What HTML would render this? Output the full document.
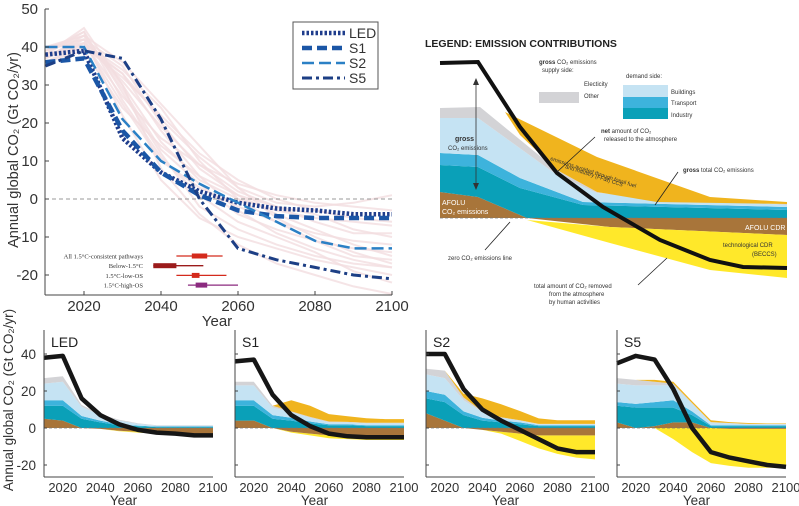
<!DOCTYPE html>
<html><head><meta charset="utf-8"><style>
html,body{margin:0;padding:0;background:#fff;}
svg{display:block;font-family:"Liberation Sans",sans-serif;}
</style></head><body>
<svg id="fig" width="799" height="506" viewBox="0 0 799 506" xmlns="http://www.w3.org/2000/svg">
<g>
<text x="425" y="47" font-size="10.5" font-weight="bold" fill="#222">LEGEND: EMISSION CONTRIBUTIONS</text>
<polygon points="440,192 478,197 527,218 440,218" fill="#a8753a"/>
<polygon points="440,218 527,218 610,227 787,235 787,218" fill="#a8753a"/>
<polygon points="527,220 610,227 787,235 787,278 710,270 610,243" fill="#ffe82a"/>
<polygon points="440,165 478,167 520,188 583,205 787,210 787,218 527,218 478,197 440,192" fill="#0aa0b8"/>
<polygon points="440,153 478,155 520,178 583,202 787,207 787,210 583,205 520,188 478,167 440,165" fill="#3db3dc"/>
<polygon points="440,118 478,118 557,175 597,193 787,205 787,207 583,202 520,178 478,155 440,153" fill="#c5e3f3"/>
<polygon points="440,108 480,107 557,170 597,192 657,202 787,204 787,205 597,193 557,175 478,118 440,118" fill="#d3d3d6"/>
<polygon points="505,112 597,157 710,197 787,202 787,204 657,202 597,192 557,170 520,135" fill="#f0b41e"/>
<line x1="440" y1="218" x2="787" y2="218" stroke="#777" stroke-dasharray="3,2" stroke-width="0.8"/>
<polyline points="440,63 478,62 520,127 557,173 603,207 660,240 710,260 743,267 787,268" fill="none" stroke="#111" stroke-width="4"/>
<line x1="476" y1="80" x2="476" y2="188" stroke="#333" stroke-width="0.8"/>
<polygon points="476,78 473,85 479,85" fill="#333"/><polygon points="476,190 473,183 479,183" fill="#333"/>
<g font-size="6" fill="#333">
<text x="539" y="64" font-weight="bold">gross <tspan font-weight="normal">CO₂ emissions</tspan></text>
<text x="542" y="72">supply side:</text>
<text x="584" y="86">Electicity</text>
<text x="584" y="98">Other</text>
<rect x="539" y="92" width="40" height="11" fill="#d3d3d6"/>
<text x="626" y="78">demand side:</text>
<rect x="623" y="85" width="45" height="12" fill="#c5e3f3"/>
<rect x="623" y="97" width="45" height="11" fill="#3db3dc"/>
<rect x="623" y="108" width="45" height="11" fill="#0aa0b8"/>
<text x="671" y="94">Buildings</text>
<text x="671" y="105">Transport</text>
<text x="671" y="117">Industry</text>
<text x="455" y="141" font-size="7" font-weight="bold">gross</text>
<text x="448" y="150">CO₂ emissions</text>
<text x="601" y="133" font-weight="bold">net <tspan font-weight="normal">amount of CO₂</tspan></text>
<text x="604" y="141">released to the atmosphere</text>
<text x="683" y="172" font-weight="bold">gross <tspan font-weight="normal">total CO₂ emissions</tspan></text>
<text x="550" y="160" transform="rotate(18 550 160)" font-size="5.5">emissions avoided through fossil fuel</text>
<text x="565" y="168" transform="rotate(18 565 168)" font-size="5.5">and industry (FF&amp;I) CCS</text>
<text x="442" y="205" fill="#fff" font-size="7">AFOLU</text>
<text x="442" y="214" fill="#fff" font-size="7">CO₂ emissions</text>
<text x="745" y="230" fill="#fff" font-size="7">AFOLU CDR</text>
<text x="723" y="247">technological CDR</text>
<text x="752" y="256">(BECCS)</text>
<text x="448" y="260">zero CO₂ emissions line</text>
<text x="534" y="288">total amount of CO₂ removed</text>
<text x="549" y="296">from the atmosphere</text>
<text x="549" y="304">by human activities</text>
</g>
<g stroke="#222" stroke-width="0.8" fill="none">
<line x1="485" y1="250" x2="510" y2="222"/><line x1="557" y1="172" x2="595" y2="137"/>
<line x1="655" y1="205" x2="678" y2="172"/><line x1="638" y1="285" x2="667" y2="258"/>
</g>
</g>
<g id="main"></g>
<g id="panels"></g>
</svg>
<script>
const years=[2010,2020,2030,2040,2050,2060,2070,2080,2090,2100];
const yTicks=[50,40,30,20,10,0,-10,-20];
const xTicks=[2020,2040,2060,2080,2100];
const ledNet=[38,39,16,7,2,-1,-2.5,-3,-4,-4];
const s1Net=[36,37,18,7,1,-3,-4.5,-5,-5,-5];
const s2Net=[40,40,21,10,4,-1,-6,-11,-13,-13];
const s5Net=[35,39,37,21,0,-13,-16,-18,-20,-21];
const bg1=[40,43,30,15,5,0,-3,-5,-6,-7];
const bg2=[38,41,25,10,3,-2,-6,-9,-11,-12];
const bg3=[37,42,35,20,8,1,-4,-8,-12,-15];
const bg4=[39,44,28,12,-2,-8,-12,-15,-17,-18];
const bg5=[36,40,32,22,12,5,0,-3,-5,-6];
const bg6=[40,42,22,5,-5,-10,-13,-16,-18,-20];
const bg7=[38,40,33,18,6,-3,-9,-13,-16,-18];
const bg8=[37,41,27,16,9,4,1,-1,-2,-3];
const bg9=[39,43,36,25,14,3,-5,-10,-14,-17];
const bg10=[38,45,30,8,-4,-12,-17,-20,-23,-25];
const bg11=[36,39,24,14,6,1,-2,-4,-8,-10];
const bg12=[40,41,34,24,10,0,-6,-11,-15,-16];
const bg13=[37,43,29,13,4,-4,-8,-11,-13,-14];
const bg14=[39,42,31,19,9,2,-2,-6,-9,-9];
const bg15=[38,44,26,11,1,-6,-10,-14,-19,-22];
const bg16=[36,41,33,21,11,3,-1,-2,-1,1];
const rangeLabels=["All 1.5°C-consistent pathways","Below-1.5°C","1.5°C-low-OS","1.5°C-high-OS"];
const rangeMin=[2044,2038,2044,2047];
const rangeQ1=[2048,2038,2048,2049];
const rangeQ3=[2052,2044,2050,2052];
const rangeMax=[2056,2051,2057,2060];
const rangeColors=["#d42a1c","#9b1b1b","#d42a1c","#8b2a7f"];
const scenNames=["LED","S1","S2","S5"];
const afolu={LED:[5,4,0,-0.5,-1.5,-2,-2.5,-3,-3,-3.5],S1:[4,4,0,-2,-3,-4,-4,-4,-4,-4],S2:[8,4,0,-1,-2,-3,-4,-4,-4,-4],S5:[3,0,1,3,3,0,-0.5,-0.5,-0.5,-0.5]};
const industry={LED:[7,8,5,3,1.5,1,0.5,0.5,0.5,0.5],S1:[8,8,5,4,2.5,1.5,1.5,1,1,1],S2:[8,10,7,4,3,2,1,1,1,1],S5:[9,11,10,8,4,1,1,1,1,1]};
const transport={LED:[3,3,1.5,1,0.5,0.3,0.3,0.3,0.3,0.3],S1:[3,3,2,1.5,1,0.5,0.5,0.5,0.5,0.5],S2:[4,4,2,1.5,1,1,0.5,0.5,0.5,0.5],S5:[2,2,3,4,2,0.5,0.5,0.5,0.5,0.5]};
const buildings={LED:[9,10,5,3,2,1,0.5,0.5,0.5,0.5],S1:[8,8,4,3,2,1,1,1,1,1],S2:[9,9,6,3,1.5,1,0.5,0.5,0.5,0.5],S5:[10,10,9,8,4,1.5,1,0.5,0.5,0.5]};
const other={LED:[3,3,1,0.5,0.5,0.3,0.2,0.2,0.2,0.2],S1:[2,2,1,0.5,0.5,0.5,0.3,0.3,0.3,0.3],S2:[3,4,1.5,0.5,0.3,0.2,0.2,0.2,0.2,0.2],S5:[3,3,2,1,0.5,0.2,0.2,0.2,0.2,0.2]};
const ccs={LED:[0,0,0,0,0,0,0,0,0,0],S1:[0,0,0,6,6,4,3,2.5,2,2],S2:[0,0,2,7,7,5,3,2,2,2],S5:[0,0,1,1,1,1,0.5,0.5,0.3,0.3]};
const cdr={LED:[0,0,0,0,0.3,0.5,0.5,0.5,0.5,0.5],S1:[0,0,0,0.5,1,1.5,2,2.5,2.5,2.5],S2:[0,0,0,0,1,4,7,10,12,13],S5:[0,0,0,6,13,19,20,21,21,21]};
const nets={LED:ledNet,S1:s1Net,S2:s2Net,S5:s5Net};
const bgs=[bg1,bg2,bg3,bg4,bg5,bg6,bg7,bg8,bg9,bg10,bg11,bg12,bg13,bg14,bg15,bg16];

const NS="http://www.w3.org/2000/svg";
function mk(parent,tag,attrs,text){const e=document.createElementNS(NS,tag);for(const k in attrs)e.setAttribute(k,attrs[k]);if(text!==undefined)e.textContent=text;parent.appendChild(e);return e;}
function pts(xs,ys,fx,fy){return xs.map((x,i)=>fx(x).toFixed(1)+","+fy(ys[i]).toFixed(1)).join(" ");}

const main=document.getElementById('main');
const mx=y=>45.5+(y-2010)*3.85;
const my=v=>199-v*3.8;
bgs.forEach((s,i)=>{
  const p=mk(main,'polyline',{points:pts(years,s,mx,my),fill:'none',stroke:'#f2dde0','stroke-width':2,opacity:0.8});
  
  
});
const zl=mk(main,'line',{x1:45,x2:392,y1:my(0),y2:my(0),stroke:'#777','stroke-dasharray':'4,3','stroke-width':0.8});


const styles={LED:{c:'#1f3d8c',w:4.5,d:'2.5,2'},S1:{c:'#1b56a6',w:4.5,d:'10,5'},S2:{c:'#2b80c5',w:2.5,d:'12,5'},S5:{c:'#1d3f85',w:3,d:'10,4,3,4'}};
scenNames.forEach(n=>{
  const st=styles[n];
  const p=mk(main,'polyline',{points:pts(years,nets[n],mx,my),fill:'none',stroke:st.c,'stroke-width':st.w,'stroke-dasharray':st.d});
  
  
});
rangeLabels.forEach((lab,i)=>{
  const yy=256+i*9.7;
  const t=mk(main,'text',{x:143,y:yy+2.5,'font-size':6.5,'text-anchor':'end',fill:'#333','font-family':'Liberation Serif,serif'},lab);
  
  
  const w=mk(main,'line',{x1:mx(rangeMin[i]),x2:mx(rangeMax[i]),y1:yy,y2:yy,stroke:rangeColors[i],'stroke-width':1.3});
  
  
  const b=mk(main,'rect',{x:mx(rangeQ1[i]),y:yy-2.5,width:Math.max(mx(rangeQ3[i])-mx(rangeQ1[i]),2),height:5,fill:rangeColors[i]});
  
  
});
mk(main,'line',{x1:45,x2:45,y1:9,y2:295,stroke:'#444','stroke-width':1});
mk(main,'line',{x1:45,x2:392,y1:295,y2:295,stroke:'#444','stroke-width':1});
yTicks.forEach(v=>{
  mk(main,'line',{x1:45,x2:49,y1:my(v),y2:my(v),stroke:'#444'});
  const t=mk(main,'text',{x:38,y:my(v)+5,'font-size':15,'text-anchor':'end',fill:'#333'},String(v));
  
  
});
xTicks.forEach(v=>{
  mk(main,'line',{x1:mx(v),x2:mx(v),y1:295,y2:291,stroke:'#444'});
  const t=mk(main,'text',{x:mx(v),y:311,'font-size':15,'text-anchor':'middle',fill:'#333'},String(v));
  
  
});
const xt=mk(main,'text',{x:217,y:326,'font-size':15,'text-anchor':'middle',fill:'#333'},'Year');


const yt=mk(main,'text',{x:0,y:0,'font-size':14.5,'text-anchor':'middle',fill:'#333',transform:'translate(18,150) rotate(-90)'},'Annual global CO₂ (Gt CO₂/yr)');


const lg=mk(main,'g',{});


mk(lg,'rect',{x:293,y:22,width:85,height:67,fill:'#fff',stroke:'#555','stroke-width':1});
scenNames.forEach((n,i)=>{
  const st=styles[n];const yy=33+i*15;
  mk(lg,'line',{x1:302,x2:345,y1:yy,y2:yy,stroke:st.c,'stroke-width':st.w,'stroke-dasharray':st.d});
  const t=mk(lg,'text',{x:349,y:yy+5,'font-size':14,fill:'#333'},n);
  
  
});

const panels=document.getElementById('panels');
const px0={LED:44,S1:235,S2:426,S5:617};
const pw=169;
const py=v=>428-v*1.85;
const panelYTicks=[40,20,0,-20];
scenNames.forEach(n=>{
  const g=mk(panels,'g',{});
  
  
  const fx=y=>px0[n]+(y-2010)*pw/90;
  const A=afolu[n],I=industry[n],T=transport[n],B=buildings[n],O=other[n],C=ccs[n],R=cdr[n];
  const posBase=A.map(a=>Math.max(a,0));
  const l1=posBase.map((b,i)=>b+I[i]);
  const l2=l1.map((b,i)=>b+T[i]);
  const l3=l2.map((b,i)=>b+B[i]);
  const l4=l3.map((b,i)=>b+O[i]);
  const l5=l4.map((b,i)=>b+C[i]);
  const negBase=A.map(a=>Math.min(a,0));
  const l6=negBase.map((b,i)=>b-R[i]);
  const zeros=years.map(()=>0);
  function band(lo,hi,col,name){
    const top=pts(years,hi,fx,py);
    const bot=pts(years.slice().reverse(),lo.slice().reverse(),fx,py);
    const p=mk(g,'polygon',{points:top+" "+bot,fill:col});
    
    
  }
  band(negBase,l6,'#ffe82a','area-beccs-'+n.toLowerCase());
  band(zeros,negBase,'#a8753a','area-afolu-cdr-'+n.toLowerCase());
  band(zeros,posBase,'#a8753a','area-afolu-'+n.toLowerCase());
  band(posBase,l1,'#0aa0b8','area-industry-'+n.toLowerCase());
  band(l1,l2,'#3db3dc','area-transport-'+n.toLowerCase());
  band(l2,l3,'#c5e3f3','area-buildings-'+n.toLowerCase());
  band(l3,l4,'#d3d3d6','area-other-'+n.toLowerCase());
  band(l4,l5,'#f0b41e','area-ccs-'+n.toLowerCase());
  mk(g,'line',{x1:fx(2010),x2:fx(2100),y1:py(0),y2:py(0),stroke:'#777','stroke-dasharray':'3,2','stroke-width':0.8});
  const nl=mk(g,'polyline',{points:pts(years,nets[n],fx,py),fill:'none',stroke:'#161616','stroke-width':4.5,'stroke-linejoin':'round'});
  
  
  mk(g,'line',{x1:px0[n],x2:px0[n],y1:330,y2:477,stroke:'#444'});
  mk(g,'line',{x1:px0[n],x2:px0[n]+pw,y1:477,y2:477,stroke:'#444'});
  panelYTicks.forEach(v=>{
    mk(g,'line',{x1:px0[n],x2:px0[n]+3,y1:py(v),y2:py(v),stroke:'#444'});
    if(n==='LED'){
      const t=mk(g,'text',{x:36,y:py(v)+5,'font-size':13.5,'text-anchor':'end',fill:'#333'},String(v));
      
      
    }
  });
  xTicks.forEach(v=>{
    const t=mk(g,'text',{x:fx(v),y:492,'font-size':13,'text-anchor':'middle',fill:'#333'},String(v));
    
    
  });
  const yr=mk(g,'text',{x:px0[n]+pw/2-5,y:505,'font-size':13.5,'text-anchor':'middle',fill:'#333'},'Year');
  
  
  const tl=mk(g,'text',{x:px0[n]+7,y:347,'font-size':14,fill:'#222'},n);
  
  
});
const pyt=mk(panels,'text',{x:0,y:0,'font-size':13.5,'text-anchor':'middle',fill:'#333',transform:'translate(13,400) rotate(-90)'},'Annual global CO₂ (Gt CO₂/yr)');


</script>
</body></html>
